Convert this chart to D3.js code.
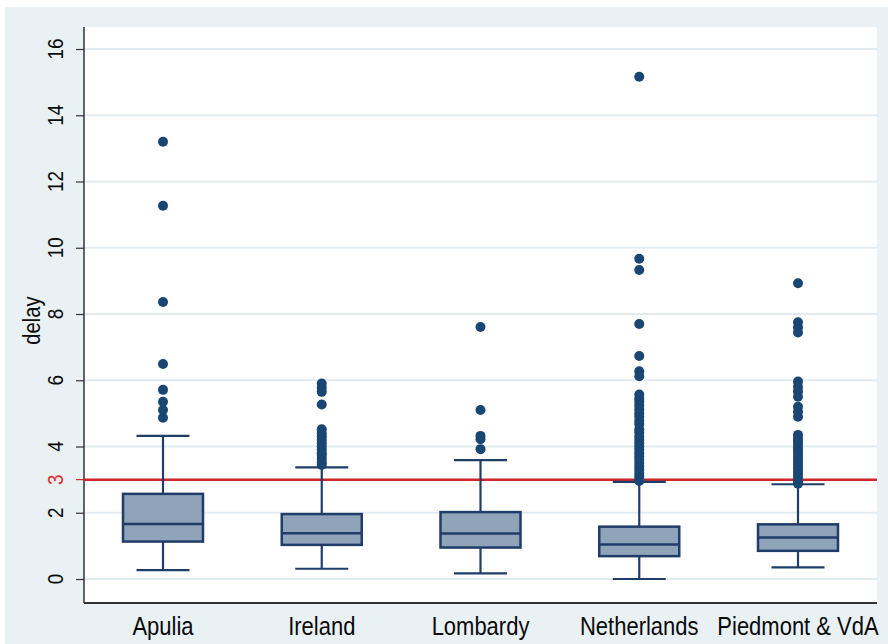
<!DOCTYPE html>
<html>
<head>
<meta charset="utf-8">
<script src="https://cdn.jsdelivr.net/npm/d3@7"></script>
<style>
  body { margin: 0; background: #fff; }
  text { font-family: "Liberation Sans", Arial, sans-serif; }
</style>
</head>
<body>
<div id="chart"></div>
<script>
const regions = ["Apulia", "Ireland", "Lombardy", "Netherlands", "Piedmont & VdA"];
// box stats: lower whisker, q1, median, q3, upper whisker
const lowWhisker = [0.27, 0.31, 0.17, 0.0, 0.35];
const q1 = [1.13, 1.03, 0.95, 0.69, 0.85];
const median = [1.66, 1.38, 1.37, 1.04, 1.25];
const q3 = [2.57, 1.96, 2.02, 1.58, 1.65];
const highWhisker = [4.32, 3.37, 3.59, 2.93, 2.86];

const outApulia = [13.2, 11.27, 8.36, 6.49, 5.71, 5.35, 5.1, 4.87];
const outIreland = [5.9, 5.77, 5.65, 5.27, 4.52, 4.4, 4.3, 4.2, 4.1, 4.0, 3.9, 3.8, 3.72, 3.62, 3.52, 3.44];
const outLombardy = [7.61, 5.1, 4.32, 4.22, 3.92];
const outNetherlands = [15.16, 9.67, 9.33, 7.7, 6.73, 6.27, 6.12, 5.57, 5.45, 5.35, 5.24, 5.12, 5.0, 4.9, 4.78, 4.68,
  4.52, 4.42, 4.3, 4.2, 4.1, 4.0, 3.9, 3.8, 3.7, 3.6, 3.5, 3.4, 3.3, 3.2, 3.1, 3.0, 2.96];
const outPiedmont = [8.93, 7.75, 7.59, 7.44, 5.96, 5.8, 5.66, 5.5, 5.2, 5.05, 4.9, 4.35, 4.25, 4.15, 4.05, 3.95,
  3.85, 3.75, 3.65, 3.55, 3.45, 3.35, 3.25, 3.15, 3.05, 2.95, 2.88];
const outliers = [outApulia, outIreland, outLombardy, outNetherlands, outPiedmont];

const yTicks = [0, 2, 4, 6, 8, 10, 12, 14, 16];
const refValue = 3;

const W = 888, H = 644;
const plotL = 84, plotR = 877, plotT = 27, plotB = 603;
const navy = "#1f3d68", dotColor = "#1a4674", boxFill = "#8fa3b9";

const svg = d3.select("#chart").append("svg")
  .attr("width", W).attr("height", H);

svg.append("rect").attr("x", 5).attr("y", 7).attr("width", W - 5).attr("height", H - 7)
  .attr("fill", "#e9f1f4");
svg.append("rect").attr("x", plotL).attr("y", plotT)
  .attr("width", plotR - plotL).attr("height", plotB - plotT).attr("fill", "#fff");

const y = d3.scaleLinear().domain([0, 16]).range([579, 49]);
const x = d3.scalePoint().domain(regions).range([163, 798]);

// gridlines
svg.append("g").selectAll("line").data(yTicks).enter().append("line")
  .attr("x1", plotL).attr("x2", plotR)
  .attr("y1", d => y(d)).attr("y2", d => y(d))
  .attr("stroke", "#e2ecf0").attr("stroke-width", 2);

// y axis
const yAxis = svg.append("g").attr("transform", `translate(${plotL},0)`)
  .call(d3.axisLeft(y).tickValues(yTicks).tickSize(8).tickFormat(""));
yAxis.select(".domain").remove();
yAxis.selectAll(".tick line").attr("stroke", "#333").attr("stroke-width", 1.2);

svg.append("g").selectAll("text").data(yTicks).enter().append("text")
  .attr("transform", d => `translate(55,${y(d)}) rotate(-90) scale(0.86,1)`)
  .attr("text-anchor", "middle").attr("dominant-baseline", "central")
  .attr("font-size", 22).attr("fill", "#0a0a0a").text(d => d);

// reference tick
svg.append("line").attr("x1", plotL - 8).attr("x2", plotL)
  .attr("y1", y(refValue)).attr("y2", y(refValue))
  .attr("stroke", "#d42a2a").attr("stroke-width", 1.2);
svg.append("text")
  .attr("transform", `translate(55,${y(refValue)}) rotate(-90) scale(0.86,1)`)
  .attr("text-anchor", "middle").attr("dominant-baseline", "central")
  .attr("font-size", 22).attr("fill", "#e0302c").text(refValue);

svg.append("text")
  .attr("transform", `translate(32,${y(7.8)}) rotate(-90) scale(0.84,1)`)
  .attr("text-anchor", "middle").attr("dominant-baseline", "central")
  .attr("font-size", 24).attr("fill", "#0a0a0a").text("delay");

// axis lines
svg.append("line").attr("x1", plotL).attr("x2", plotL).attr("y1", plotT).attr("y2", plotB)
  .attr("stroke", "#333").attr("stroke-width", 1.5);
svg.append("line").attr("x1", plotL).attr("x2", plotR).attr("y1", plotB).attr("y2", plotB)
  .attr("stroke", "#333").attr("stroke-width", 2);

// category labels
svg.append("g").selectAll("text").data(regions).enter().append("text")
  .attr("transform", d => `translate(${x(d)},635) scale(0.88,1)`)
  .attr("text-anchor", "middle").attr("font-size", 25).attr("fill", "#0a0a0a").text(d => d);

// reference line
svg.append("line").attr("x1", plotL).attr("x2", plotR)
  .attr("y1", y(refValue)).attr("y2", y(refValue))
  .attr("stroke", "#d0242a").attr("stroke-width", 2.5);

// boxes
const boxW = 80, capW = 53;
const boxes = svg.append("g").selectAll("g").data(regions).enter().append("g")
  .attr("transform", d => `translate(${x(d)},0)`);

boxes.append("line").attr("x1", 0).attr("x2", 0)
  .attr("y1", (d, i) => y(q3[i])).attr("y2", (d, i) => y(highWhisker[i]))
  .attr("stroke", navy).attr("stroke-width", 2.2);
boxes.append("line").attr("x1", 0).attr("x2", 0)
  .attr("y1", (d, i) => y(q1[i])).attr("y2", (d, i) => y(lowWhisker[i]))
  .attr("stroke", navy).attr("stroke-width", 2.2);
boxes.append("line").attr("x1", -capW / 2).attr("x2", capW / 2)
  .attr("y1", (d, i) => y(highWhisker[i])).attr("y2", (d, i) => y(highWhisker[i]))
  .attr("stroke", navy).attr("stroke-width", 2.2);
boxes.append("line").attr("x1", -capW / 2).attr("x2", capW / 2)
  .attr("y1", (d, i) => y(lowWhisker[i])).attr("y2", (d, i) => y(lowWhisker[i]))
  .attr("stroke", navy).attr("stroke-width", 2.2);
boxes.append("rect").attr("x", -boxW / 2).attr("width", boxW)
  .attr("y", (d, i) => y(q3[i])).attr("height", (d, i) => y(q1[i]) - y(q3[i]))
  .attr("fill", boxFill).attr("stroke", navy).attr("stroke-width", 2.5);
boxes.append("line").attr("x1", -boxW / 2).attr("x2", boxW / 2)
  .attr("y1", (d, i) => y(median[i])).attr("y2", (d, i) => y(median[i]))
  .attr("stroke", navy).attr("stroke-width", 2.5);

boxes.each(function(d, i) {
  d3.select(this).selectAll("circle").data(outliers[i]).enter().append("circle")
    .attr("cx", 0).attr("cy", v => y(v)).attr("r", 5)
    .attr("fill", dotColor);
});
</script>
</body>
</html>
